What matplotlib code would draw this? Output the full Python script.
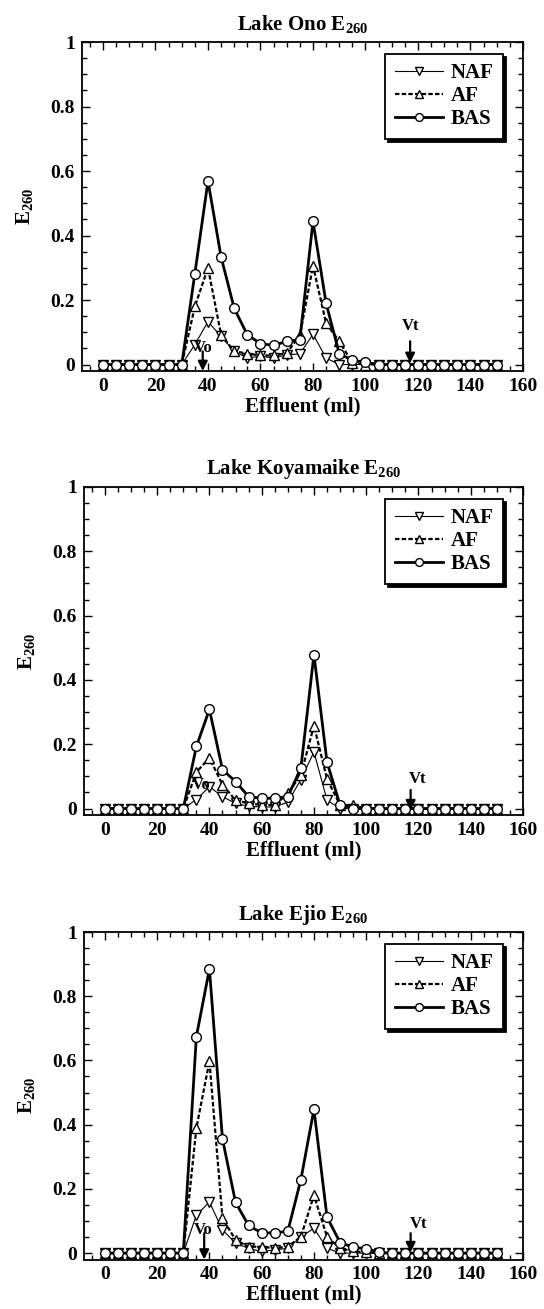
import matplotlib
matplotlib.use("Agg")
import matplotlib.pyplot as plt
from matplotlib.ticker import MultipleLocator, FuncFormatter

plt.rcParams['font.family'] = ['Liberation Serif', 'DejaVu Serif']
plt.rcParams['font.weight'] = 'bold'
plt.rcParams['mathtext.fontset'] = 'custom'
plt.rcParams['mathtext.rm'] = 'Liberation Serif:bold'
plt.rcParams['mathtext.it'] = 'Liberation Serif:bold'
plt.rcParams['mathtext.bf'] = 'Liberation Serif:bold'

effluent = [0, 5, 10, 15, 20, 25, 30, 35, 40, 45, 50, 55, 60, 65, 70, 75, 80,
            85, 90, 95, 100, 105, 110, 115, 120, 125, 130, 135, 140, 145, 150]

ono_naf = [0, 0, 0, 0, 0, 0, 0, 0.062, 0.133, 0.087, 0.041, 0.02, 0.026, 0.02,
           0.03, 0.033, 0.094, 0.02, 0, 0, 0, 0, 0, 0, 0, 0, 0, 0, 0, 0, 0]
ono_af = [0, 0, 0, 0, 0, 0, 0, 0.18, 0.30, 0.092, 0.041, 0.034, 0.028, 0.028,
          0.036, 0.09, 0.306, 0.128, 0.072, 0.005, 0, 0, 0, 0, 0, 0, 0, 0, 0, 0, 0]
ono_bas = [0, 0, 0, 0, 0, 0, 0, 0.282, 0.569, 0.333, 0.174, 0.092, 0.065, 0.059,
           0.072, 0.077, 0.444, 0.19, 0.034, 0.013, 0.007, 0, 0, 0, 0, 0, 0, 0, 0, 0, 0]

koy_naf = [0, 0, 0, 0, 0, 0, 0, 0.028, 0.068, 0.037, 0.016, 0.007, 0.005, 0.005,
           0.02, 0.09, 0.176, 0.026, 0, 0, 0, 0, 0, 0, 0, 0, 0, 0, 0, 0, 0]
koy_af = [0, 0, 0, 0, 0, 0, 0, 0.113, 0.158, 0.074, 0.026, 0.016, 0.011, 0.011,
          0.047, 0.105, 0.258, 0.092, 0.011, 0.01, 0, 0, 0, 0, 0, 0, 0, 0, 0, 0, 0]
koy_bas = [0, 0, 0, 0, 0, 0, 0, 0.193, 0.308, 0.121, 0.084, 0.037, 0.032, 0.032,
           0.037, 0.126, 0.479, 0.144, 0.011, 0, 0, 0, 0, 0, 0, 0, 0, 0, 0, 0, 0]

eji_naf = [0, 0, 0, 0, 0, 0, 0, 0.118, 0.159, 0.072, 0.031, 0.015, 0.005, 0.01,
           0.015, 0.051, 0.077, 0.015, 0, 0, 0, 0, 0, 0, 0, 0, 0, 0, 0, 0, 0]
eji_af = [0, 0, 0, 0, 0, 0, 0, 0.389, 0.598, 0.108, 0.041, 0.02, 0.02, 0.015,
          0.02, 0.051, 0.18, 0.051, 0.015, 0.005, 0.003, 0, 0, 0, 0, 0, 0, 0, 0, 0, 0]
eji_bas = [0, 0, 0, 0, 0, 0, 0, 0.674, 0.885, 0.355, 0.158, 0.086, 0.063, 0.063,
           0.068, 0.229, 0.448, 0.112, 0.033, 0.018, 0.014, 0.002, 0, 0, 0, 0, 0, 0, 0, 0, 0]

titles = ['Lake Ono E$_{260}$', 'Lake Koyamaike E$_{260}$', 'Lake Ejio E$_{260}$']
series_labels = ['NAF', 'AF', 'BAS']
vo_x, vt_x = 38, 117

panels = [
    (titles[0], ono_naf, ono_af, ono_bas,
     (38, 0.051), (0.041, -0.02), (117.3, 0.118), (0.072, 0.005)),
    (titles[1], koy_naf, koy_af, koy_bas,
     (36.8, 0.074), (0.079, -0.024), (119.5, 0.092), (0.058, -0.005)),
    (titles[2], eji_naf, eji_af, eji_bas,
     (37.6, 0.072), (0.062, -0.02), (119.9, 0.09), (0.062, 0.003)),
]

positions = [
    [0.1507, 0.7166, 0.8107, 0.2513],
    [0.1544, 0.3774, 0.8070, 0.2506],
    [0.1544, 0.0378, 0.8070, 0.2502],
]

fig = plt.figure(figsize=(5.44, 13.09), dpi=100)

for pos, (title, naf, af, bas, vo_txt, vo_arr, vt_txt, vt_arr) in zip(positions, panels):
    ax = fig.add_axes(pos)
    ax.plot(effluent, naf, '-', color='k', lw=0.8, marker='v', markersize=7,
            markerfacecolor='white', markeredgecolor='k', markeredgewidth=1.0,
            label=series_labels[0])
    ax.plot(effluent, af, color='k', lw=1.6, dashes=(2.0, 1.0), marker='^',
            markersize=7, markerfacecolor='white', markeredgecolor='k',
            markeredgewidth=1.0, label=series_labels[1])
    ax.plot(effluent, bas, '-', color='k', lw=2.0, marker='o', markersize=7,
            markerfacecolor='white', markeredgecolor='k', markeredgewidth=1.0,
            label=series_labels[2])

    ax.set_xlim(-8, 160)
    ax.set_ylim(-0.02, 1.0)
    ax.xaxis.set_major_locator(MultipleLocator(20))
    ax.xaxis.set_minor_locator(MultipleLocator(5))
    ax.yaxis.set_major_locator(MultipleLocator(0.2))
    ax.yaxis.set_minor_locator(MultipleLocator(0.05))
    ax.yaxis.set_major_formatter(FuncFormatter(lambda v, p: f'{v:g}'))
    ax.tick_params(which='both', direction='in', top=True, right=True,
                   width=1.0, labelsize=14)
    ax.tick_params(which='major', length=6, pad=5)
    ax.tick_params(which='minor', length=3.5)
    for lab in ax.get_xticklabels() + ax.get_yticklabels():
        lab.set_fontweight('bold')
    for sp in ax.spines.values():
        sp.set_linewidth(1.3)

    ax.set_title(title, fontsize=15, fontweight='bold', pad=9)
    ax.set_xlabel('Effluent (ml)', fontsize=15, fontweight='bold', labelpad=1)
    ax.set_ylabel('E$_{260}$', fontsize=15, fontweight='bold', labelpad=11)

    # Vo / Vt markers
    ax.text(vo_txt[0], vo_txt[1], 'Vo', fontsize=12, fontweight='bold',
            ha='center', va='center')
    ax.annotate('', xy=(vo_x, vo_arr[1]), xytext=(vo_x, vo_arr[0]),
                arrowprops=dict(arrowstyle='-|>', color='k', lw=1.6,
                                mutation_scale=14, shrinkA=0, shrinkB=0))
    ax.text(vt_txt[0], vt_txt[1], 'Vt', fontsize=12, fontweight='bold',
            ha='center', va='center')
    ax.annotate('', xy=(vt_x, vt_arr[1]), xytext=(vt_x, vt_arr[0]),
                arrowprops=dict(arrowstyle='-|>', color='k', lw=1.6,
                                mutation_scale=14, shrinkA=0, shrinkB=0))

    leg = ax.legend(loc='upper right', bbox_to_anchor=(0.955, 0.964),
                    fancybox=False, frameon=True, edgecolor='k',
                    shadow={'color': 'k', 'alpha': 1.0}, markerscale=0.8,
                    prop={'family': 'Liberation Serif', 'weight': 'bold', 'size': 15},
                    handlelength=2.3, handletextpad=0.4, labelspacing=0.15,
                    borderpad=0.45, borderaxespad=0.0)
    leg.get_frame().set_linewidth(1.3)
    leg.get_frame().set_alpha(1.0)

fig.savefig('out.png', dpi=100)
